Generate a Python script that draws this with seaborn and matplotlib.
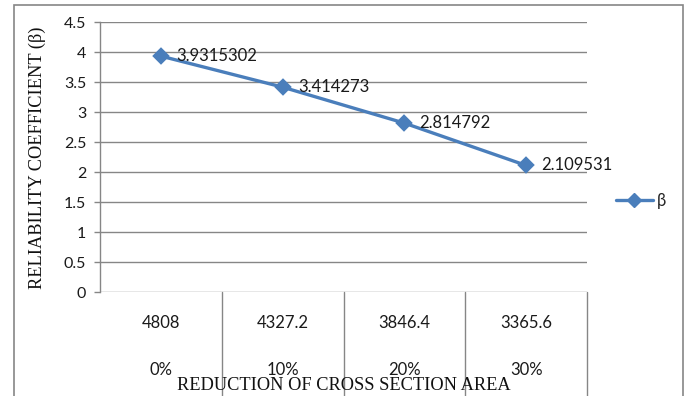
import matplotlib
matplotlib.use("Agg")
import matplotlib.pyplot as plt
from matplotlib.lines import Line2D
from matplotlib.patches import Rectangle
import seaborn as sns
import pandas as pd

# Cross-section areas, their reduction levels and the reliability index
areas = ["4808", "4327.2", "3846.4", "3365.6"]
reductions = ["0%", "10%", "20%", "30%"]
beta = [3.9315302, 3.414273, 2.814792, 2.109531]
beta_labels = ["3.9315302", "3.414273", "2.814792", "2.109531"]
y_ticks = [0, 0.5, 1, 1.5, 2, 2.5, 3, 3.5, 4, 4.5]
y_ticklabels = ["0", "0.5", "1", "1.5", "2", "2.5", "3", "3.5", "4", "4.5"]

df = pd.DataFrame({"area": areas, "beta": beta})

sns.set_theme(style="white")
plt.rcParams["font.family"] = ["Lato", "DejaVu Sans"]

W, H = 688, 396
fig = plt.figure(figsize=(W / 100, H / 100), dpi=100)
fig.patch.set_facecolor("white")

# plot area in pixel coordinates
x0, x1, ytop, ybot = 100, 587, 22, 292
ax = fig.add_axes([x0 / W, 1 - ybot / H, (x1 - x0) / W, (ybot - ytop) / H])

blue = "#4a7ebb"
grid = "#868686"
text_c = "#1a1a1a"

sns.pointplot(data=df, x="area", y="beta", color=blue, markers="D",
              linestyles="-", ax=ax, markersize=7.5, linewidth=2.4)

ax.set_ylim(0, 4.5)
ax.set_xlim(-0.5, len(areas) - 0.5)
ax.set_yticks(y_ticks)
ax.set_yticklabels(y_ticklabels, fontsize=11.5, color=text_c)
ax.set_xticks([])
ax.set_xlabel("")
ax.set_ylabel("")

for v in y_ticks:
    ax.axhline(v, color=grid, lw=1, zorder=0)

for s in ["top", "right", "bottom"]:
    ax.spines[s].set_visible(False)
ax.spines["left"].set_color(grid)
ax.spines["left"].set_linewidth(1)
ax.tick_params(axis="y", length=4, width=1, color=grid, left=True, pad=6)

# value labels beside each point
for i, (v, lab) in enumerate(zip(beta, beta_labels)):
    ax.annotate(lab, (i, v), xytext=(11, 0), textcoords="offset points",
                va="center", ha="left", fontsize=12, color=text_c)

# two-level category axis below the plot
xt = ax.get_xaxis_transform()
ph = ybot - ytop
for i, (a, r) in enumerate(zip(areas, reductions)):
    ax.text(i, -31 / ph, a, transform=xt, ha="center", va="center",
            fontsize=12, color=text_c)
    ax.text(i, -78 / ph, r, transform=xt, ha="center", va="center",
            fontsize=12, color=text_c)
for b in [0.5, 1.5, 2.5, 3.5]:
    ax.plot([b, b], [0, -(H - ybot) / ph], transform=xt, color=grid,
            lw=1, clip_on=False)

fig.text(344 / W, 1 - 386 / H, "REDUCTION OF CROSS SECTION AREA",
         family="Liberation Serif", fontsize=13.2, ha="center", va="center",
         color="#111111")
fig.text(37 / W, 1 - 158 / H, "RELIABILITY COEFFICIENT (β)",
         family="Liberation Serif", fontsize=13.2, ha="center", va="center",
         rotation=90, color="#111111")

# legend
handle = Line2D([], [], color=blue, marker="D", markersize=7, lw=2.4)
fig.legend([handle], ["β"], loc="center left",
           bbox_to_anchor=(616 / W, 1 - 201 / H), frameon=False,
           handlelength=2.2, handletextpad=0.25, fontsize=12,
           borderaxespad=0, borderpad=0)

# chart border
fig.patches.append(Rectangle((14 / W, -0.1), (683 - 14) / W, 1 - 5 / H + 0.1,
                             transform=fig.transFigure, fill=False,
                             edgecolor=grid, lw=1.2, figure=fig))

fig.savefig("out.png", dpi=100)
